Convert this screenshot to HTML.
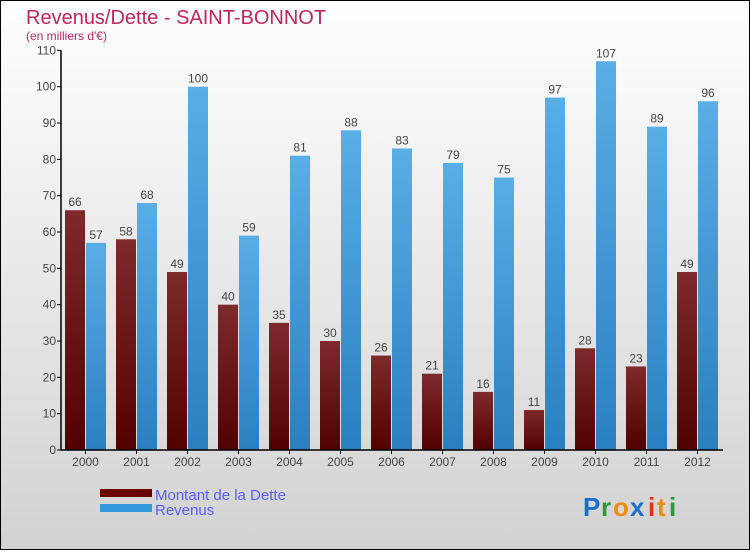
<!DOCTYPE html>
<html><head><meta charset="utf-8"><style>
body{margin:0;width:750px;height:550px;overflow:hidden;font-family:"Liberation Sans",sans-serif}
</style></head><body>
<svg id="c" width="750" height="550" xmlns="http://www.w3.org/2000/svg">
<defs>
<linearGradient id="bg" x1="0" y1="0" x2="0" y2="1"><stop offset="0" stop-color="#ffffff"/><stop offset="1" stop-color="#d2d2d2"/></linearGradient>
<linearGradient id="gd" x1="0" y1="0" x2="0" y2="1"><stop offset="0" stop-color="#7e2a2c"/><stop offset="1" stop-color="#520000"/></linearGradient>
<linearGradient id="gr" x1="0" y1="0" x2="0" y2="1"><stop offset="0" stop-color="#5aaee6"/><stop offset="1" stop-color="#2a7fc0"/></linearGradient>
</defs>
<rect x="0.5" y="0.5" width="749" height="549" fill="url(#bg)" stroke="#000"/>
<text x="26" y="24" font-size="20" fill="#c0245a">Revenus/Dette - SAINT-BONNOT</text>
<text x="26" y="40" font-size="12" fill="#c0245a">(en milliers d'€)</text>
<g id="plot"></g>
<rect x="100" y="489" width="52" height="8" fill="#6b0000"/>
<text x="155" y="500" font-size="15" fill="#5a5aff">Montant de la Dette</text>
<rect x="100" y="504" width="52" height="8" fill="#3399dd"/>
<text x="155" y="515" font-size="15" fill="#5a5aff">Revenus</text>
<g font-size="26" font-weight="bold">
<text x="583" y="516" fill="#1a6fc8">P</text><text x="601" y="516" fill="#2a9a3a">r</text><text x="613" y="516" fill="#f08a10">o</text><text x="630" y="516" fill="#1a6fc8">x</text><text x="648" y="516" fill="#e03010">i</text><text x="657" y="516" fill="#f08a10">t</text><text x="669" y="516" fill="#2a9a3a">i</text>
</g>
</svg>
<script>
const years=["2000","2001","2002","2003","2004","2005","2006","2007","2008","2009","2010","2011","2012"];
const dette=[66,58,49,40,35,30,26,21,16,11,28,23,49];
const revenus=[57,68,100,59,81,88,83,79,75,97,107,89,96];
const ticks=[0,10,20,30,40,50,60,70,80,90,100,110];
const NS="http://www.w3.org/2000/svg";
const g=document.getElementById('plot');
const y0=450,k=3.633,x0=61,step=51;
const yS=v=>y0-v*k;
function mk(t,a,p){const e=document.createElementNS(NS,t);for(const n in a)e.setAttribute(n,a[n]);(p||g).appendChild(e);return e;}
ticks.forEach(t=>{
 const l=mk('line',{x1:x0-4,x2:x0,y1:yS(t),y2:yS(t),stroke:'#000'});
 
 
 const tx=mk('text',{x:x0-5,y:yS(t)+4,'font-size':12,fill:'#444','text-anchor':'end'});
 tx.textContent=t;
 
 
});
years.forEach((yr,i)=>{
 const gx=x0+4+i*step;
 const d=mk('rect',{x:gx,y:yS(dette[i]),width:20,height:dette[i]*k,fill:'url(#gd)'});
 
 
 const r=mk('rect',{x:gx+21,y:yS(revenus[i]),width:20,height:revenus[i]*k,fill:'url(#gr)'});
 
 
 const dl=mk('text',{x:gx+10,y:yS(dette[i])-4,'font-size':12,fill:'#444','text-anchor':'middle'});
 dl.textContent=dette[i];
 
 
 const rl=mk('text',{x:gx+31,y:yS(revenus[i])-4,'font-size':12,fill:'#444','text-anchor':'middle'});
 rl.textContent=revenus[i];
 
 
 const tk=mk('line',{x1:gx+20.5,x2:gx+20.5,y1:y0,y2:y0+4,stroke:'#000'});
 
 
 const xl=mk('text',{x:gx+20.5,y:y0+16,'font-size':12,fill:'#444','text-anchor':'middle'});
 xl.textContent=yr;
 
 
});
const ya=mk('line',{x1:x0,x2:x0,y1:yS(110),y2:y0,stroke:'#000','stroke-width':1.5});


const xa=mk('line',{x1:x0,x2:723,y1:y0,y2:y0,stroke:'#000','stroke-width':1.5});


</script>
</body></html>
